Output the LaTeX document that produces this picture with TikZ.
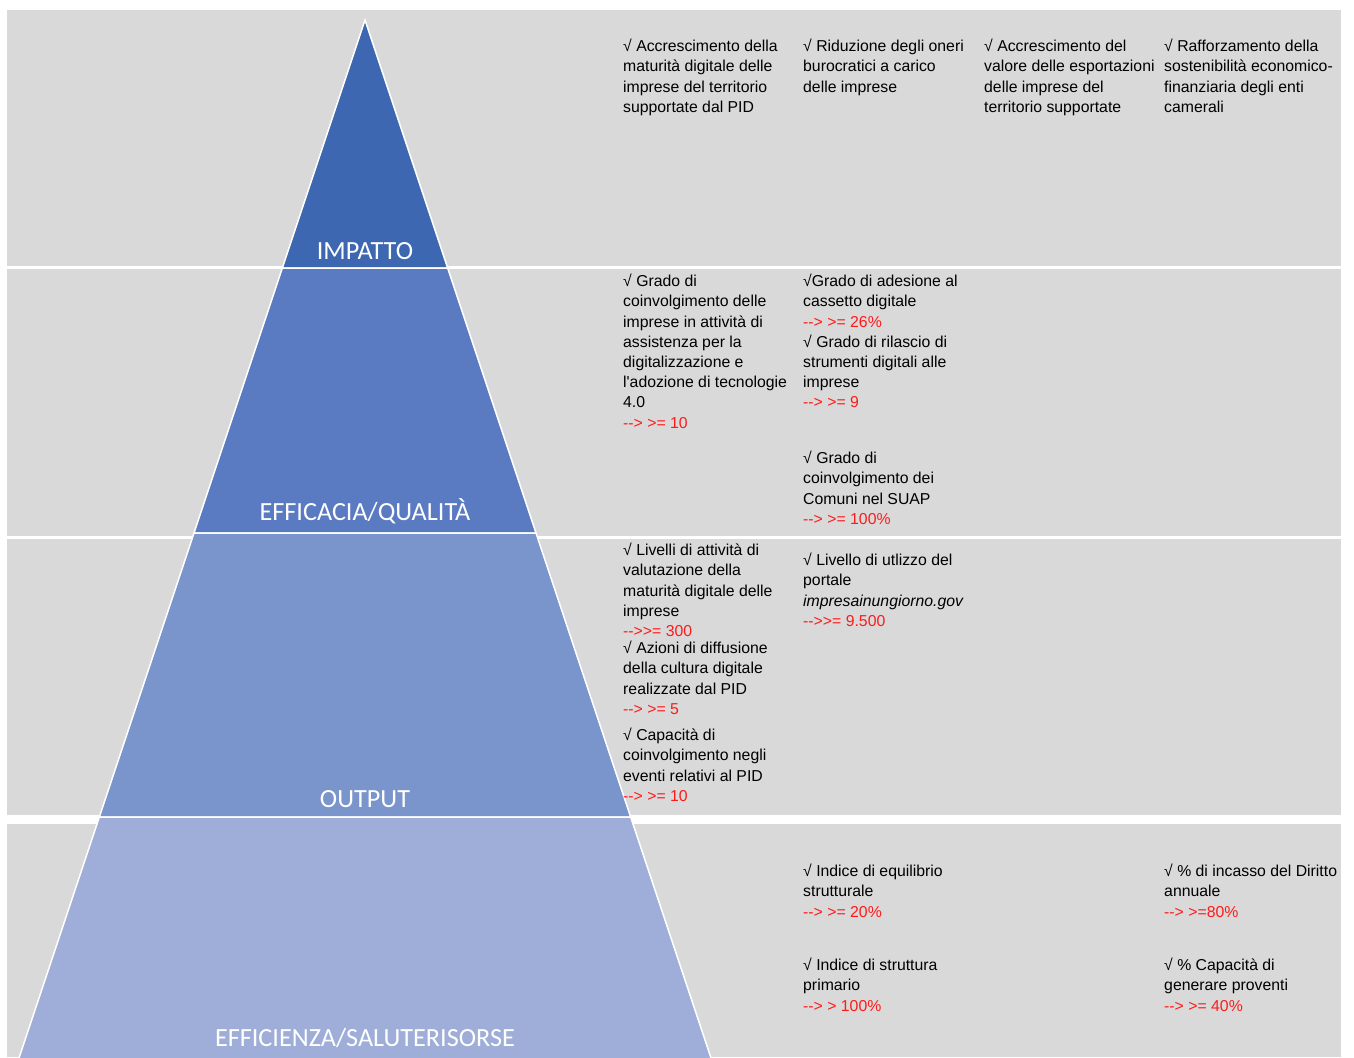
\documentclass[tikz,border=0pt]{standalone}
\usepackage{fontspec}
\usepackage{xcolor}
\newfontfamily\txtfont{Liberation Sans}
\newfontfamily\labfont{Carlito}
\definecolor{bandgray}{HTML}{D9D9D9}
\definecolor{lvlA}{HTML}{3D67B1}
\definecolor{lvlB}{HTML}{5A7AC2}
\definecolor{lvlC}{HTML}{7A94CC}
\definecolor{lvlD}{HTML}{9FAED8}
\definecolor{goalred}{HTML}{FF1A1A}
\newcommand\goal[1]{{\color{goalred}#1}}
\newcommand\PyrLayer[3]{
  \def\PT{#1} \def\PB{#2}
  \pgfmathsetmacro{\xTL}{365-(\PT-20)/3}
  \pgfmathsetmacro{\xTR}{365+(\PT-20)/3}
  \pgfmathsetmacro{\xBL}{365-(\PB-20)/3}
  \pgfmathsetmacro{\xBR}{365+(\PB-20)/3}
  \filldraw[fill=#3,draw=white,line width=1.5pt]
    (\xTL,\PT) -- (\xTR,\PT) -- (\xBR,\PB) -- (\xBL,\PB) -- cycle;
}

\begin{document}
\begin{tikzpicture}[x=1pt, y=-1pt,
  txt/.style={anchor=north west, inner sep=0pt, align=left,
    font=\txtfont\fontsize{15.8}{20.2}\selectfont},
  lvl/.style={anchor=base, inner sep=0pt, text=white,
    font=\labfont\fontsize{26.2}{30}\selectfont}]
\useasboundingbox (0,0) rectangle (1354,1057);
\foreach \ya/\yb in {10/266,269/536,539/815,824/1057}
{
  \fill[bandgray] (7,\ya) rectangle (1341,\yb);
}
\foreach \ya/\yb/\col in {20/268/lvlA,268/533/lvlB,533/817/lvlC,817/1064/lvlD}
{
  \PyrLayer{\ya}{\yb}{\col}
}
\node[lvl] (impatto) at (365,259) {IMPATTO};
\node[lvl] (efficacia) at (365,520) {EFFICACIA/QUALITÀ};
\node[lvl] (output) at (365,807) {OUTPUT};
\node[lvl] (efficienza) at (365,1046) {EFFICIENZA/SALUTERISORSE};

% impatto
\node[txt] (impA) at (623,39) {√ Accrescimento della\\maturità digitale delle\\imprese del territorio\\supportate dal PID};
\node[txt] (impB) at (803,39) {√ Riduzione degli oneri\\burocratici a carico\\delle imprese};
\node[txt] (impC) at (984,39) {√ Accrescimento del\\valore delle esportazioni\\delle imprese del\\territorio supportate};
\node[txt] (impD) at (1164,39) {√ Rafforzamento della\\sostenibilità economico-\\finanziaria degli enti\\camerali};

% efficacia
\node[txt] (effA) at (623,274) {√ Grado di\\coinvolgimento delle\\imprese in attività di\\assistenza per la\\digitalizzazione e\\l'adozione di tecnologie\\4.0\\\goal{--> >= 10}};
\node[txt] (effB) at (803,274) {√Grado di adesione al\\cassetto digitale\\\goal{--> >= 26\%}\\√ Grado di rilascio di\\strumenti digitali alle\\imprese\\\goal{--> >= 9}};
\node[txt] (effC) at (803,451) {√ Grado di\\coinvolgimento dei\\Comuni nel SUAP\\\goal{--> >= 100\%}};

% output
\node[txt] (outA) at (623,543) {√ Livelli di attività di\\valutazione della\\maturità digitale delle\\imprese\\\goal{-->>= 300}};
\node[txt] (outB) at (623,641) {√ Azioni di diffusione\\della cultura digitale\\realizzate dal PID\\\goal{--> >= 5}};
\node[txt] (outC) at (623,728) {√ Capacità di\\coinvolgimento negli\\eventi relativi al PID\\\goal{--> >= 10}};
\node[txt] (outD) at (803,553) {√ Livello di utlizzo del\\portale\\\textit{impresainungiorno.gov}\\\goal{-->>= 9.500}};

% efficienza
\node[txt] (eznA) at (803,864) {√ Indice di equilibrio\\strutturale\\\goal{--> >= 20\%}};
\node[txt] (eznB) at (803,958) {√ Indice di struttura\\primario\\\goal{--> > 100\%}};
\node[txt] (eznC) at (1164,864) {√ \% di incasso del Diritto\\annuale\\\goal{--> >=80\%}};
\node[txt] (eznD) at (1164,958) {√ \% Capacità di\\generare proventi\\\goal{--> >= 40\%}};
\end{tikzpicture}
\end{document}
